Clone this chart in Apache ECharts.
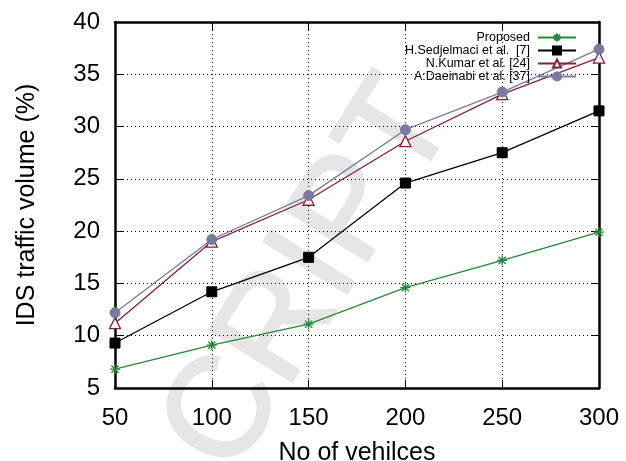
<!DOCTYPE html>
<html><head><meta charset="utf-8">
<script src="https://cdn.jsdelivr.net/npm/echarts@6/dist/echarts.min.js"></script>
<style>html,body{margin:0;padding:0;background:#fff}#c{width:626px;height:461px}</style>
</head><body><div id="c"></div>
<script>
const vehicles = [50, 100, 150, 200, 250, 300];
const proposed = [6.8, 9.1, 11.1, 14.6, 17.2, 19.9];
const sedjelmaci = [9.3, 14.2, 17.5, 24.6, 27.5, 31.5];
const kumar = [11.2, 19.0, 23.0, 28.6, 33.1, 36.6];
const daeinabi = [12.2, 19.2, 23.4, 29.7, 33.3, 37.4];
const names = ['Proposed', 'H.Sedjelmaci et al.  [7]', 'N.Kumar et al. [24]', 'A:Daeinabi et al. [37]'];
const xTicks = { min: 50, max: 300, step: 50 };
const yTicks = { min: 5, max: 40, step: 5 };

const chart = echarts.init(document.getElementById('c'));
const font = '"Liberation Sans", Arial, sans-serif';
const pair = arr => vehicles.map((v, i) => [v, arr[i]]);
const star = 'path://M0,-5L0,5M-5,0L5,0M-3.6,-3.6L3.6,3.6M-3.6,3.6L3.6,-3.6';
const C = { green: '#23893a', black: '#000000', maroon: '#85203f', grey: '#7a7a9e' };

const mk = (name, data, color, symbol, size, itemStyle) => ({
  name, type: 'line', data: pair(data), symbol, symbolSize: size,
  lineStyle: { color, width: 1.3 },
  itemStyle: itemStyle || { color, borderColor: color, borderWidth: 1 },
  z: 3
});

const border = { show: true, lineStyle: { color: '#000', width: 2.5 } };
const ticks = { show: true, inside: true, length: 8, lineStyle: { color: '#000', width: 1 } };
const grid = { show: true, lineStyle: { color: '#000', type: [1, 3], width: 1 } };

chart.setOption({
  animation: false,
  backgroundColor: '#fff',
  graphic: [{
    type: 'text', z: -10,
    x: 311, y: 277, rotation: 58 * Math.PI / 180,
    style: { text: 'CRIPT', font: '142px ' + font, fill: '#e6e6e6', stroke: '#e6e6e6', lineWidth: 2.5,
      align: 'center', verticalAlign: 'middle' }
  }],
  grid: { left: 115, right: 27, top: 22, bottom: 73, outerBoundsMode: 'none', containLabel: false },
  legend: {
    orient: 'vertical', right: 49, top: 31, align: 'right', padding: 0,
    itemWidth: 38, itemHeight: 10, itemGap: 0,
    textStyle: { fontFamily: font, fontSize: 12.5, lineHeight: 12.5, color: '#000', padding: [0, 3, 0, 0] },
    data: names
  },
  xAxis: [
    {
      type: 'value', min: xTicks.min, max: xTicks.max, interval: xTicks.step,
      name: 'No of vehilces', nameLocation: 'middle', nameGap: 53,
      nameTextStyle: { fontFamily: font, fontSize: 25, color: '#000' },
      axisLabel: { fontFamily: font, fontSize: 24, color: '#000', margin: 18 },
      axisLine: border, axisTick: ticks, splitLine: grid
    },
    { type: 'value', position: 'top', min: xTicks.min, max: xTicks.max, interval: xTicks.step,
      axisLabel: { show: false }, axisLine: border, axisTick: ticks, splitLine: { show: false } }
  ],
  yAxis: [
    {
      type: 'value', min: yTicks.min, max: yTicks.max, interval: yTicks.step,
      name: 'IDS traffic volume (%)', nameLocation: 'middle', nameGap: 75,
      nameTextStyle: { fontFamily: font, fontSize: 25, color: '#000' },
      axisLabel: { fontFamily: font, fontSize: 24, color: '#000', margin: 15 },
      axisLine: border, axisTick: ticks, splitLine: grid
    },
    { type: 'value', position: 'right', min: yTicks.min, max: yTicks.max, interval: yTicks.step,
      axisLabel: { show: false }, axisLine: border, axisTick: ticks, splitLine: { show: false } }
  ],
  series: [
    mk(names[0], proposed, C.green, star, 10, { color: C.green, borderColor: C.green, borderWidth: 1.3 }),
    mk(names[1], sedjelmaci, C.black, 'rect', 10),
    mk(names[2], kumar, C.maroon, 'triangle', 11, { color: '#ffffff', borderColor: C.maroon, borderWidth: 1.3 }),
    mk(names[3], daeinabi, C.grey, 'circle', 10)
  ]
});
</script></body></html>
